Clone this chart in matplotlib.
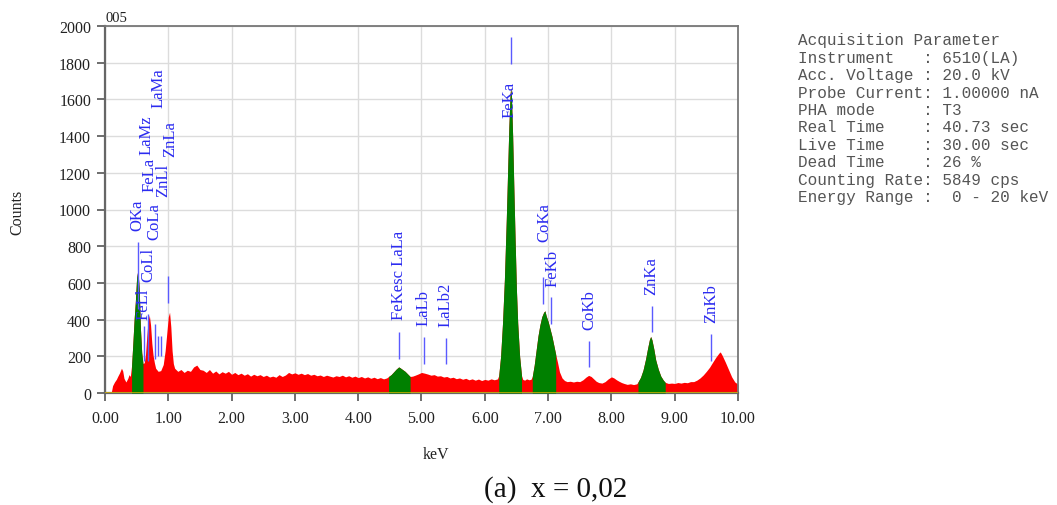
import numpy as np
import matplotlib
matplotlib.use("Agg")
import matplotlib.pyplot as plt

# ---------------- data ----------------
energy_keV = [
    0.00, 0.08, 0.10, 0.12, 0.15, 0.18, 0.20, 0.23, 0.26, 0.28, 0.30, 0.33, 0.36, 0.38, 0.40,
    0.42, 0.44, 0.46, 0.48, 0.50, 0.52, 0.54, 0.56, 0.58, 0.60,
    0.62, 0.64, 0.66, 0.68, 0.70, 0.72, 0.74, 0.76, 0.78, 0.80, 0.84, 0.88, 0.92, 0.95, 0.98,
    1.00, 1.02, 1.04, 1.06, 1.08, 1.10, 1.15, 1.20, 1.25, 1.30, 1.35, 1.40, 1.45, 1.50,
    1.55, 1.60, 1.65, 1.70, 1.75, 1.80, 1.85, 1.90, 1.95, 2.00, 2.05, 2.10, 2.15, 2.20, 2.25,
    2.30, 2.35, 2.40, 2.45, 2.50, 2.55, 2.60, 2.65, 2.70, 2.75, 2.80, 2.85, 2.90, 2.95, 3.00,
    3.05, 3.10, 3.15, 3.20, 3.25, 3.30, 3.35, 3.40, 3.45, 3.50, 3.55, 3.60, 3.65, 3.70, 3.75,
    3.80, 3.85, 3.90, 3.95, 4.00, 4.05, 4.10, 4.15, 4.20, 4.25, 4.30, 4.35, 4.40, 4.45,
    4.48, 4.52, 4.56, 4.60, 4.64, 4.66, 4.70, 4.74, 4.78, 4.82,
    4.86, 4.90, 4.95, 5.00, 5.05, 5.10, 5.15, 5.20, 5.25, 5.30, 5.35, 5.40, 5.45, 5.50, 5.55,
    5.60, 5.65, 5.70, 5.75, 5.80, 5.85, 5.90, 5.95, 6.00, 6.05, 6.10, 6.15, 6.20,
    6.22, 6.25, 6.28, 6.31, 6.34, 6.36, 6.38, 6.40, 6.41, 6.42, 6.44, 6.46, 6.48, 6.50, 6.52,
    6.55, 6.58, 6.60, 6.63, 6.66, 6.70, 6.73,
    6.75, 6.78, 6.81, 6.84, 6.87, 6.90, 6.93, 6.95, 6.97, 7.00, 7.03, 7.06, 7.09, 7.12,
    7.15, 7.18, 7.22, 7.26, 7.30, 7.35, 7.40, 7.45, 7.50, 7.55, 7.60, 7.64, 7.68, 7.72, 7.76,
    7.80, 7.85, 7.90, 7.95, 8.00, 8.04, 8.08, 8.12, 8.16, 8.20, 8.25, 8.30, 8.35, 8.40,
    8.42, 8.46, 8.50, 8.54, 8.57, 8.60, 8.62, 8.64, 8.67, 8.70, 8.74, 8.78, 8.82, 8.85,
    8.90, 8.95, 9.00, 9.05, 9.10, 9.15, 9.20, 9.25, 9.30, 9.35, 9.40, 9.45, 9.50, 9.55, 9.60,
    9.65, 9.70, 9.72, 9.75, 9.80, 9.85, 9.90, 9.95, 10.00,
]
counts = [
    0, 0, 5, 40, 60, 75, 90, 110, 135, 120, 80, 60, 80, 100, 90,
    150, 270, 400, 500, 630, 670, 570, 350, 220, 160,
    165, 210, 310, 390, 425, 370, 270, 205, 165, 135, 118, 122, 155, 230, 340,
    415, 440, 360, 230, 160, 135, 118, 128, 112, 124, 118, 142, 152, 128,
    124, 112, 128, 108, 120, 104, 116, 108, 118, 102, 112, 100, 108, 97, 105,
    92, 102, 94, 100, 90, 97, 87, 92, 86, 100, 90, 98, 112, 104, 110,
    102, 108, 100, 106, 97, 102, 94, 98, 90, 97, 92, 87, 94, 90, 97,
    88, 94, 86, 92, 84, 90, 82, 88, 80, 86, 78, 84, 77, 82,
    90, 100, 115, 130, 142, 138, 128, 118, 104, 90,
    92, 97, 104, 112, 108, 103, 97, 100, 92, 94, 87, 90, 82, 86, 78,
    82, 75, 80, 72, 77, 70, 76, 68, 74, 70, 77, 72, 77,
    95, 200, 380, 620, 950, 1200, 1450, 1630, 1665, 1620, 1400, 1100, 820, 560, 380,
    200, 95, 74, 70, 77, 72, 75,
    90, 150, 230, 310, 370, 415, 440, 448, 420, 390, 350, 310, 260, 210,
    165, 115, 82, 68, 62, 64, 60, 64, 62, 72, 87, 96, 90, 77, 64,
    57, 54, 62, 77, 88, 82, 72, 64, 57, 52, 47, 50, 46, 50,
    60, 85, 125, 185, 240, 290, 308, 290, 240, 180, 130, 92, 70, 58,
    52, 54, 52, 57, 54, 58, 56, 62, 62, 70, 82, 98, 118, 140, 168,
    195, 218, 224, 205, 168, 128, 88, 60, 48,
]
# peak regions of interest (green)
roi_start = [0.42, 4.48, 6.22, 6.75, 8.42]
roi_end = [0.60, 4.82, 6.58, 7.12, 8.85]

# marker lines: name, energy
line_names = ["OKa", "FeLl", "CoLl", "CoLa", "LaMa", "ZnLl", "ZnLa", "FeKesc LaLa",
              "LaLb", "LaLb2", "FeKa", "CoKa", "FeKb", "CoKb", "ZnKa", "ZnKb"]
line_keV = [0.517, 0.616, 0.679, 0.782, 0.842, 0.880, 1.000, 4.645,
            5.039, 5.382, 6.409, 6.924, 7.046, 7.646, 8.637, 9.573]

# labels
label_names = ["OKa", "FeLl", "CoLl", "CoLa", "FeLa", "LaMz", "ZnLl", "ZnLa", "LaMa",
               "FeKesc LaLa", "LaLb", "LaLb2", "FeKa", "CoKa", "FeKb", "CoKb", "ZnKa", "ZnKb"]

x_ticks = [0, 1, 2, 3, 4, 5, 6, 7, 8, 9, 10]
x_tick_labels = ["0.00", "1.00", "2.00", "3.00", "4.00", "5.00", "6.00", "7.00", "8.00", "9.00", "10.00"]
y_ticks = [0, 200, 400, 600, 800, 1000, 1200, 1400, 1600, 1800, 2000]

acq_lines = [
    "Acquisition Parameter",
    "Instrument   : 6510(LA)",
    "Acc. Voltage : 20.0 kV",
    "Probe Current: 1.00000 nA",
    "PHA mode     : T3",
    "Real Time    : 40.73 sec",
    "Live Time    : 30.00 sec",
    "Dead Time    : 26 %",
    "Counting Rate: 5849 cps",
    "Energy Range :  0 - 20 keV",
]

# ---------------- layout (annotation placement) ----------------
line_spans = [(823, 458), (365, 174), (431, 174), (376, 185), (311, 202), (311, 202),
              (638, 490), (332, 185), (305, 158), (300, 158), (1940, 1793), (632, 485),
              (523, 376), (283, 142), (474, 332), (322, 174)]
label_pos = [(0.517, 888), (0.605, 403), (0.687, 610), (0.779, 839), (0.700, 1101),
             (0.659, 1303), (0.921, 1074), (1.027, 1292), (0.842, 1559), (4.645, 403),
             (5.039, 371), (5.382, 365), (6.398, 1504), (6.935, 828), (7.062, 583),
             (7.651, 349), (8.637, 540), (9.573, 387)]

serif = ["Liberation Serif", "DejaVu Serif"]

fig = plt.figure(figsize=(10.57, 5.06), dpi=100)
ax = fig.add_axes([105 / 1057, 1 - 394 / 506, 633 / 1057, 367 / 506])

e = np.array(energy_keV)
c = np.array(counts)
ax.fill_between(e, 0, c, color="#ff0000", linewidth=0, zorder=2)
for a, b in zip(roi_start, roi_end):
    m = (e >= a - 1e-9) & (e <= b + 1e-9)
    ax.fill_between(e[m], 0, c[m], color="#008000", linewidth=0, zorder=3)

ax.axhline(0, color="#d8b400", lw=1.8, zorder=4)

for xk, (top, bot) in zip(line_keV, line_spans):
    ax.vlines(xk, bot, top, color="#5a5aff", lw=1.0, zorder=5)

for name, (xk, yb) in zip(label_names, label_pos):
    ax.text(xk, yb, name, rotation=90, ha="center", va="bottom", color="#2b2bf0",
            fontsize=12, family=serif, zorder=6)

ax.set_xlim(0, 10)
ax.set_ylim(0, 2000)
ax.set_xticks(x_ticks)
ax.set_xticklabels(x_tick_labels)
ax.set_yticks(y_ticks)
ax.grid(True, color="#dcdcdc", lw=1.0, zorder=0)
ax.set_axisbelow(True)
for lab in ax.get_xticklabels() + ax.get_yticklabels():
    lab.set_family(serif)
    lab.set_fontsize(11.5)
    lab.set_color("#222222")
ax.tick_params(axis="both", direction="out", length=6, width=1.2, color="#555555")
ax.tick_params(axis="x", pad=6)
ax.tick_params(axis="y", pad=4)
ax.spines["left"].set_color("#666666")
ax.spines["left"].set_linewidth(1.6)
ax.spines["bottom"].set_color("#666666")
ax.spines["bottom"].set_linewidth(1.6)
ax.spines["top"].set_color("#777777")
ax.spines["top"].set_linewidth(1.3)
ax.spines["right"].set_color("#777777")
ax.spines["right"].set_linewidth(1.3)

fig.text(17 / 1057, 1 - 212 / 506, "Counts", rotation=90, ha="center", va="center",
         fontsize=11.5, family=serif, color="#222222")
fig.text(436 / 1057, 1 - 455 / 506, "keV", ha="center", va="center",
         fontsize=11.5, family=serif, color="#222222")
fig.text(106 / 1057, 1 - 18 / 506, "005", ha="left", va="center",
         fontsize=10.5, family=serif, color="#222222")
fig.text(556 / 1057, 1 - 490 / 506, "(a)  x = 0,02", ha="center", va="center",
         fontsize=21, family=serif, color="#111111")

for i, s in enumerate(acq_lines):
    fig.text(798 / 1057, 1 - (41 + i * 17.4) / 506, s, ha="left", va="center",
             fontsize=11.5, family=["Liberation Mono", "DejaVu Sans Mono"], color="#555555")

fig.savefig("out.png", dpi=100)
